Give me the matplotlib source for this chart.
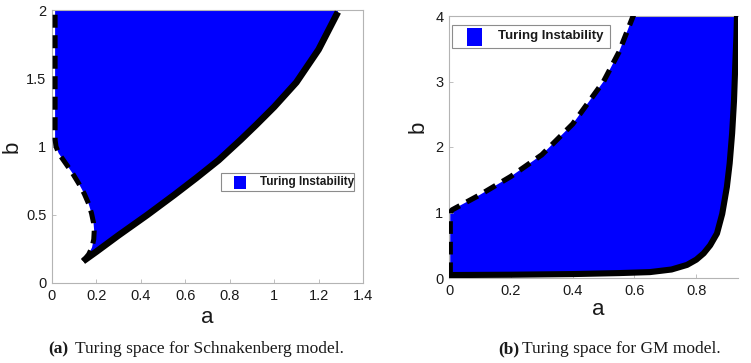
import matplotlib.pyplot as plt
from matplotlib.patches import Rectangle


# CONFIGURATION

OUT_PATH = "out.png"
DPI = 100
FIG_W, FIG_H = 751, 363

BLUE = "#0000ff"
SPINE_GREY = "#b4b4b4"
TEXT_DARK = "#1a1a1a"
SANS = "Liberation Sans"
SERIF = "Liberation Serif"

# (a) Schnakenberg model: solid and dashed Turing boundaries
SCH_SOLID_A = [0.14, 0.20, 0.30, 0.43, 0.55, 0.65, 0.75, 0.85, 0.92, 1.00,
               1.10, 1.20, 1.287]
SCH_SOLID_B = [0.16, 0.23, 0.35, 0.50, 0.645, 0.77, 0.90, 1.05, 1.16, 1.29,
               1.47, 1.71, 1.985]
SCH_DASH_A = [0.14, 0.165, 0.18, 0.188, 0.19, 0.187, 0.178, 0.165, 0.145,
              0.12, 0.09, 0.06, 0.03, 0.018, 0.014, 0.014]
SCH_DASH_B = [0.16, 0.21, 0.26, 0.32, 0.38, 0.44, 0.51, 0.58, 0.655,
              0.73, 0.81, 0.88, 0.95, 1.00, 1.05, 2.00]
SCH_XTICKS = [0, 0.2, 0.4, 0.6, 0.8, 1.0, 1.2, 1.4]
SCH_XTICKLABELS = ["0", "0.2", "0.4", "0.6", "0.8", "1", "1.2", "1.4"]
SCH_YTICKS = [0, 0.5, 1, 1.5, 2]
SCH_YTICKLABELS = ["0", "0.5", "1", "1.5", "2"]

# (b) GM model: solid lower boundary and dashed upper boundary
GM_LOWER_A = [0.0, 0.2, 0.4, 0.55, 0.65, 0.72, 0.77, 0.80, 0.824, 0.845,
              0.867, 0.884, 0.899, 0.908, 0.916, 0.922, 0.926, 0.930, 0.932]
GM_LOWER_B = [0.045, 0.05, 0.06, 0.075, 0.09, 0.13, 0.20, 0.28, 0.377, 0.50,
              0.68, 0.98, 1.39, 1.75, 2.21, 2.70, 3.23, 3.70, 4.05]
GM_UPPER_A = [0.004, 0.004, 0.01, 0.1, 0.2, 0.3, 0.4, 0.5, 0.55, 0.6]
GM_UPPER_B = [0.045, 1.00, 1.04, 1.27, 1.55, 1.88, 2.35, 3.00, 3.45, 4.05]
GM_XTICKS = [0, 0.2, 0.4, 0.6, 0.8]
GM_XTICKLABELS = ["0", "0.2", "0.4", "0.6", "0.8"]
GM_YTICKS = [0, 1, 2, 3, 4]
GM_YTICKLABELS = ["0", "1", "2", "3", "4"]

LEGEND_LABEL = "Turing Instability"
CAPTIONS = [
    ("(a)", "Turing space for Schnakenberg model.", 48, 75),
    ("(b)", "Turing space for GM model.", 498, 522),
]


# HELPERS

def px_axes(left, top, right, bottom):
    return [left / FIG_W, 1 - bottom / FIG_H, (right - left) / FIG_W, (bottom - top) / FIG_H]


def style_axes(ax, xticks, xlabels, yticks, ylabels):
    ax.set_xticks(xticks)
    ax.set_xticklabels(xlabels)
    ax.set_yticks(yticks)
    ax.set_yticklabels(ylabels)
    ax.tick_params(direction="in", length=3, width=0.6, color=SPINE_GREY,
                   labelsize=10.5, labelcolor=TEXT_DARK, pad=4)
    for label in ax.get_xticklabels() + ax.get_yticklabels():
        label.set_fontfamily(SANS)
    for spine in ax.spines.values():
        spine.set_color(SPINE_GREY)
        spine.set_linewidth(0.8)


def set_labels(ax, xpos, ypos):
    ax.set_xlabel("a", fontsize=16, family=SANS, color=TEXT_DARK)
    ax.set_ylabel("b", fontsize=16, family=SANS, color=TEXT_DARK)
    ax.xaxis.set_label_coords(*xpos)
    ax.yaxis.set_label_coords(*ypos)
    ax.xaxis.label.set_verticalalignment("center")
    ax.yaxis.label.set_verticalalignment("center")


def draw_legend(ax, box, swatch, text_xy, fontsize):
    x0, y0, x1, y1 = box
    ax.add_patch(Rectangle((x0, y0), x1 - x0, y1 - y0, transform=ax.transAxes,
                           facecolor="white", edgecolor="#8c8c8c", linewidth=0.8,
                           zorder=5))
    sx0, sy0, sx1, sy1 = swatch
    ax.add_patch(Rectangle((sx0, sy0), sx1 - sx0, sy1 - sy0, transform=ax.transAxes,
                           facecolor=BLUE, edgecolor="none", zorder=6))
    ax.text(*text_xy, LEGEND_LABEL, transform=ax.transAxes, fontsize=fontsize,
            family=SANS, weight="bold", color=TEXT_DARK, ha="left", va="center",
            zorder=6)


# FIGURES

def plot_schnakenberg(fig):
    ax = fig.add_axes(px_axes(52, 10, 363, 283))

    fill_a = SCH_SOLID_A + [SCH_SOLID_A[-1], SCH_DASH_A[-1]] + SCH_DASH_A[::-1]
    fill_b = SCH_SOLID_B + [2.0, 2.0] + SCH_DASH_B[::-1]
    ax.fill(fill_a, fill_b, color=BLUE, linewidth=0, zorder=1)

    ax.plot(SCH_SOLID_A, SCH_SOLID_B, color="black", linewidth=4.8,
            solid_capstyle="butt", solid_joinstyle="round", zorder=3)
    ax.plot(SCH_DASH_A, SCH_DASH_B, color="black", linewidth=3.6,
            linestyle=(0, (2.6, 1.5)), dash_capstyle="butt", zorder=3)

    ax.set_xlim(0, 1.4)
    ax.set_ylim(0, 2)
    style_axes(ax, SCH_XTICKS, SCH_XTICKLABELS, SCH_YTICKS, SCH_YTICKLABELS)
    set_labels(ax, (0.498, -0.128), (-0.129, 0.498))

    draw_legend(ax, (0.5434, 0.337, 0.9711, 0.403), (0.585, 0.344, 0.624, 0.392),
                (0.669, 0.370), 8.5)


def plot_gm(fig):
    ax = fig.add_axes(px_axes(449, 16, 738, 278))

    fill_a = GM_LOWER_A + GM_UPPER_A[::-1]
    fill_b = GM_LOWER_B + GM_UPPER_B[::-1]
    ax.fill(fill_a, fill_b, color=BLUE, linewidth=0, zorder=1)

    ax.plot(GM_LOWER_A, GM_LOWER_B, color="black", linewidth=4.4,
            solid_capstyle="butt", solid_joinstyle="round", zorder=3)
    ax.plot(GM_UPPER_A, GM_UPPER_B, color="black", linewidth=3.8,
            linestyle=(0, (2.4, 1.5)), dash_capstyle="butt", zorder=3)

    ax.set_xlim(0, 0.935)
    ax.set_ylim(0, 4)
    style_axes(ax, GM_XTICKS, GM_XTICKLABELS, GM_YTICKS, GM_YTICKLABELS)
    ax.spines["right"].set_visible(False)
    set_labels(ax, (0.516, -0.122), (-0.107, 0.576))

    draw_legend(ax, (0.0104, 0.878, 0.557, 0.966), (0.0623, 0.885, 0.114, 0.954),
                (0.1696, 0.922), 9.5)


def add_captions(fig):
    y = 1 - 349 / FIG_H
    for tag, text, tag_x, text_x in CAPTIONS:
        fig.text(tag_x / FIG_W, y, tag, family=SERIF, weight="bold", fontsize=12.5,
                 color=TEXT_DARK, ha="left", va="center")
        fig.text(text_x / FIG_W, y, text, family=SERIF, fontsize=12.5,
                 color=TEXT_DARK, ha="left", va="center")


# MAIN

def main() -> None:
    fig = plt.figure(figsize=(FIG_W / DPI, FIG_H / DPI), dpi=DPI)
    plot_schnakenberg(fig)
    plot_gm(fig)
    add_captions(fig)
    fig.savefig(OUT_PATH, dpi=DPI)
    plt.close(fig)


if __name__ == "__main__":
    main()
